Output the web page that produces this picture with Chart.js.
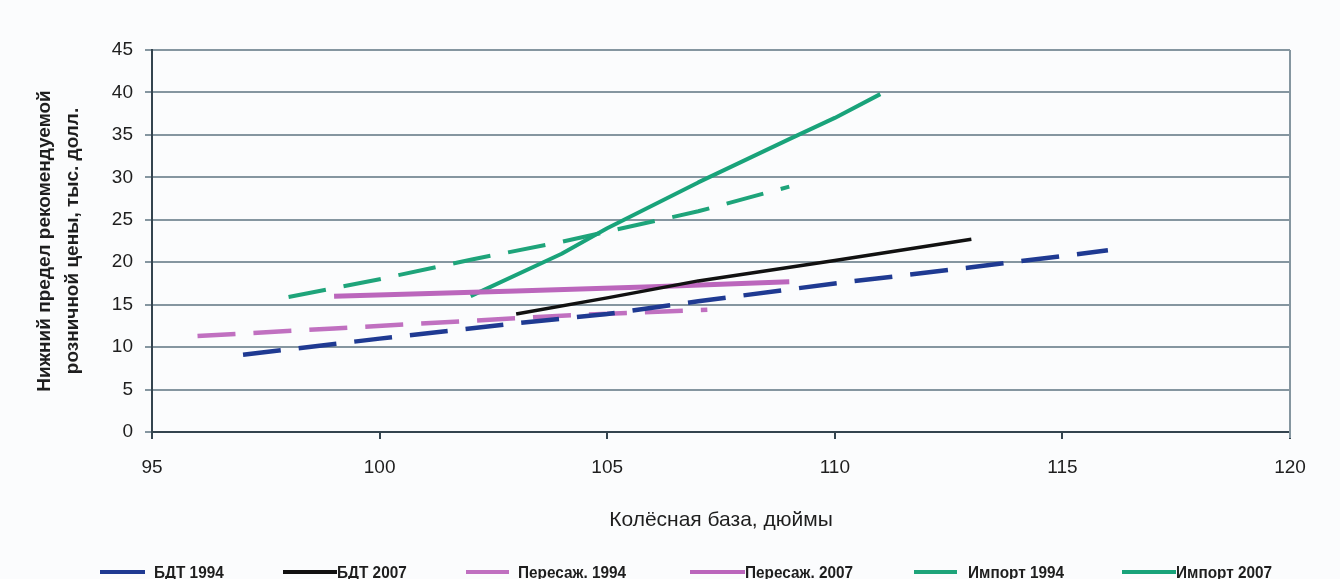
<!DOCTYPE html>
<html lang="ru">
<head>
<meta charset="utf-8">
<title>Колёсная база и цена</title>
<script src="https://cdn.jsdelivr.net/npm/chart.js@4/dist/chart.umd.min.js"></script>
<style>
  html, body { margin: 0; padding: 0; background: #fbfcfd; }
  #wrap { width: 1340px; height: 579px; position: relative; }
  canvas { display: block; }
</style>
</head>
<body>
<div id="wrap"><canvas id="c" width="1340" height="579"></canvas></div>
<script>
// Wheelbase (inches) and lower suggested retail price (thousand USD)
const seriesNames = ['БДТ 1994', 'БДТ 2007', 'Пересаж. 1994', 'Пересаж. 2007', 'Импорт 1994', 'Импорт 2007'];

const wheelbaseBdt1994 = [97, 100, 103, 105, 107, 110, 113, 116];
const priceBdt1994     = [9.1, 11.0, 12.8, 13.9, 15.4, 17.5, 19.4, 21.4];

const wheelbaseBdt2007 = [103, 105, 107, 110, 113];
const priceBdt2007     = [13.9, 15.8, 17.8, 20.2, 22.7];

const wheelbasePass1994 = [96, 99, 102, 104, 107.2];
const pricePass1994     = [11.3, 12.2, 13.1, 13.7, 14.4];

const wheelbasePass2007 = [99, 103, 106, 109];
const pricePass2007     = [16.0, 16.6, 17.1, 17.7];

const wheelbaseImport1994 = [98, 100, 102, 104, 105, 107, 109];
const priceImport1994     = [15.9, 18.0, 20.3, 22.4, 23.6, 26.0, 28.9];

const wheelbaseImport2007 = [102, 104, 105, 107, 109, 110, 111];
const priceImport2007     = [16.0, 21.0, 24.0, 29.4, 34.5, 37.0, 39.8];

const xTicks = [95, 100, 105, 110, 115, 120];
const yTicks = [0, 5, 10, 15, 20, 25, 30, 35, 40, 45];

const xTitle = 'Колёсная база, дюймы';
const yTitle = ['Нижний предел рекомендуемой', 'розничной цены, тыс. долл.'];

// Styling
const colors  = ['#1f3a92', '#111111', '#c070c0', '#bb66bc', '#1ea47a', '#19a37a'];
const dashed  = [true, false, true, false, true, false];
const widths  = [4.5, 3.5, 4.5, 5, 4, 4];
const dashPattern = [38, 18];

function pts(xs, ys) { return xs.map((x, i) => ({ x: x, y: ys[i] })); }

const allData = [
  pts(wheelbaseBdt1994, priceBdt1994),
  pts(wheelbaseBdt2007, priceBdt2007),
  pts(wheelbasePass1994, pricePass1994),
  pts(wheelbasePass2007, pricePass2007),
  pts(wheelbaseImport1994, priceImport1994),
  pts(wheelbaseImport2007, priceImport2007)
];

// Dashed lines sit behind the solid ones where they cross
const datasets = seriesNames.map((name, i) => ({
  label: name,
  data: allData[i],
  borderColor: colors[i],
  backgroundColor: colors[i],
  borderWidth: widths[i],
  borderDash: dashed[i] ? dashPattern : [],
  borderCapStyle: 'butt',
  borderJoinStyle: 'round',
  pointRadius: 0,
  pointHoverRadius: 0,
  tension: 0,
  fill: false,
  order: dashed[i] ? 1 : 0
}));

const AXIS = '#34444f';
const GRID = '#8596a0';
const TEXT = '#1e1e1e';
const SANS = '"Liberation Sans", Arial, sans-serif';

// Page background
const bgPlugin = {
  id: 'bg',
  beforeDraw(chart) {
    const ctx = chart.ctx;
    ctx.save();
    ctx.fillStyle = '#fbfcfd';
    ctx.fillRect(0, 0, chart.width, chart.height);
    ctx.restore();
  }
};

// Right border of the plot area
const framePlugin = {
  id: 'frame',
  beforeDatasetsDraw(chart) {
    const { ctx, chartArea: a } = chart;
    ctx.save();
    ctx.strokeStyle = GRID;
    ctx.lineWidth = 2;
    ctx.beginPath();
    ctx.moveTo(a.right, a.top);
    ctx.lineTo(a.right, a.bottom + 6);
    ctx.stroke();
    ctx.restore();
  }
};

// Legend row along the bottom edge (condensed bold labels)
const legendX   = [100, 283, 466, 690, 914, 1122];
const legendLen = [45, 54, 43, 55, 43, 54];
const legendGap = [9, 0, 9, 0, 11, 0];
const legendPlugin = {
  id: 'bottomLegend',
  afterDraw(chart) {
    const ctx = chart.ctx;
    const y = 572;
    ctx.save();
    chart.data.datasets.forEach((ds, i) => {
      ctx.strokeStyle = ds.borderColor;
      ctx.lineWidth = 4;
      ctx.lineCap = 'butt';
      ctx.beginPath();
      ctx.moveTo(legendX[i], y);
      ctx.lineTo(legendX[i] + legendLen[i], y);
      ctx.stroke();

      ctx.save();
      ctx.translate(legendX[i] + legendLen[i] + legendGap[i], y + 1);
      ctx.scale(0.93, 1);
      ctx.font = 'bold 16.5px ' + SANS;
      ctx.textBaseline = 'middle';
      ctx.textAlign = 'left';
      ctx.fillStyle = TEXT;
      ctx.fillText(ds.label, 0, 0);
      ctx.restore();
    });
    ctx.restore();
  }
};

new Chart(document.getElementById('c'), {
  type: 'line',
  data: { datasets: datasets },
  plugins: [bgPlugin, framePlugin, legendPlugin],
  options: {
    responsive: false,
    animation: false,
    devicePixelRatio: 1,
    layout: { padding: { top: 50, right: 50, bottom: 37, left: 0 } },
    plugins: {
      legend: { display: false },
      tooltip: { enabled: false },
      title: { display: false }
    },
    scales: {
      x: {
        type: 'linear',
        min: 95,
        max: 120,
        afterBuildTicks(axis) { axis.ticks = xTicks.map(v => ({ value: v })); },
        afterFit(axis) { axis.height = 110; },
        border: { display: true, color: AXIS, width: 2 },
        grid: { display: true, drawOnChartArea: false, drawTicks: true, tickLength: 7, color: AXIS, lineWidth: 2 },
        ticks: {
          padding: 17,
          color: TEXT,
          font: { family: SANS, size: 19 },
          maxRotation: 0
        },
        title: {
          display: true,
          text: xTitle,
          color: TEXT,
          font: { family: SANS, size: 21 },
          padding: { top: 0, bottom: 9 }
        }
      },
      y: {
        type: 'linear',
        min: 0,
        max: 45,
        afterBuildTicks(axis) { axis.ticks = yTicks.map(v => ({ value: v })); },
        afterFit(axis) { axis.width = 152; },
        border: { display: true, color: AXIS, width: 2 },
        grid: { display: true, drawOnChartArea: true, drawTicks: true, tickLength: 7, color: GRID, lineWidth: 2 },
        ticks: {
          padding: 12,
          color: TEXT,
          font: { family: SANS, size: 19 }
        },
        title: {
          display: true,
          text: yTitle,
          color: TEXT,
          font: { family: SANS, size: 19, weight: 'bold', lineHeight: 1.47 },
          padding: { top: 31, bottom: 0 }
        }
      }
    }
  }
});
</script>
</body>
</html>
